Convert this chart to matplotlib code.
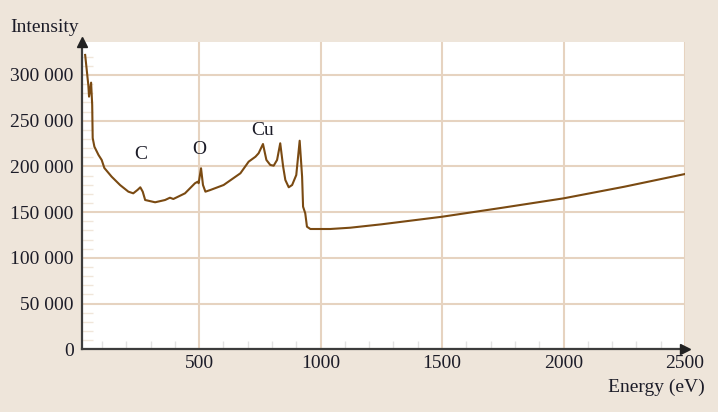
import matplotlib
matplotlib.use('Agg')
import numpy as np
import matplotlib.pyplot as plt
from matplotlib.ticker import MultipleLocator, FixedLocator, FuncFormatter

plt.rcParams['font.family'] = ['Liberation Serif', 'DejaVu Serif']

# spectrum (energy in eV, counts)
energy = [31, 44, 47, 55.5, 60, 62, 69, 86, 99, 110, 140, 175, 209, 229, 247, 258, 268,
          278, 319, 360, 380, 394, 442, 483, 494, 498, 508, 516, 526, 546, 601, 670,
          704, 732, 745, 763, 777, 793, 807, 821, 834, 846, 855, 869, 883, 900, 914,
          924, 928, 937, 944, 958, 965, 1040, 1122, 1250, 1500, 1750, 2000, 2250, 2500]
intensity = [321900, 289000, 276300, 291600, 267200, 231100, 221600, 212500, 207100,
             198300, 188800, 179600, 172400, 170600, 174400, 177200, 172400, 163300,
             160800, 163300, 165800, 164400, 170600, 181600, 183300, 181600, 198000,
             179700, 172400, 174200, 179700, 192500, 205200, 210600, 214400, 224500,
             207100, 201600, 200800, 207100, 225300, 199700, 185200, 177200, 179700,
             190600, 228100, 188800, 156000, 148700, 134100, 131600, 131600, 131600,
             133000, 136700, 145000, 154900, 165100, 177800, 191700]

peak_labels = ['C', 'O', 'Cu']
peak_x = [258, 501, 760]
peak_y = [212500, 219000, 239800]

BG = '#EEE5DA'
GRID = '#E6D3C0'
LINE = '#7A4A12'
AXC = '#3C3C3C'
TXT = '#1C1C28'

fig = plt.figure(figsize=(7.18, 4.12), dpi=100, facecolor=BG)
ax = fig.add_axes([0.1142, 0.152, 0.8398, 0.746])
ax.set_facecolor('white')

ax.plot(energy, intensity, color=LINE, lw=1.5, zorder=3)
for lab, x, y in zip(peak_labels, peak_x, peak_y):
    ax.text(x, y, lab, ha='center', va='center', fontsize=14, color=TXT)

ax.set_xlim(18, 2500)
ax.set_ylim(0, 336000)

ax.xaxis.set_major_locator(FixedLocator([500, 1000, 1500, 2000, 2500]))
ax.xaxis.set_minor_locator(FixedLocator([x for x in range(100, 2500, 100) if x % 500]))
ax.yaxis.set_major_locator(MultipleLocator(50000))
ax.yaxis.set_minor_locator(FixedLocator([y for y in range(10000, 330000, 10000) if y % 50000]))
ax.yaxis.set_major_formatter(FuncFormatter(lambda v, p: f'{int(v):,}'.replace(',', ' ')))

ax.grid(True, which='major', color=GRID, lw=1.5, zorder=0)
ax.set_axisbelow(True)
ax.tick_params(which='major', length=0, labelsize=14, labelcolor=TXT)
ax.tick_params(axis='x', which='major', pad=4)
ax.tick_params(axis='y', which='major', pad=6)
ax.tick_params(axis='x', which='minor', direction='in', length=6, width=1, color='#E2E2E2')
ax.tick_params(axis='y', which='minor', direction='in', length=8, width=1, color='#F0E6DA')

for s in ('top', 'right'):
    ax.spines[s].set_visible(False)
for s in ('left', 'bottom'):
    ax.spines[s].set_color(AXC)
    ax.spines[s].set_linewidth(1.6)

# arrow heads on the axes
ax.plot(0, 1, marker='^', ms=7, color='#222222', transform=ax.transAxes, clip_on=False, zorder=5)
ax.plot(1, 0, marker='>', ms=7, color='#222222', transform=ax.transAxes, clip_on=False, zorder=5)

fig.text(10 / 718, 1 - 27 / 412, 'Intensity', ha='left', va='center', fontsize=14, color=TXT)
fig.text(705 / 718, 1 - 387 / 412, 'Energy (eV)', ha='right', va='center', fontsize=14, color=TXT)

fig.savefig('out.png', dpi=100, facecolor=BG)
